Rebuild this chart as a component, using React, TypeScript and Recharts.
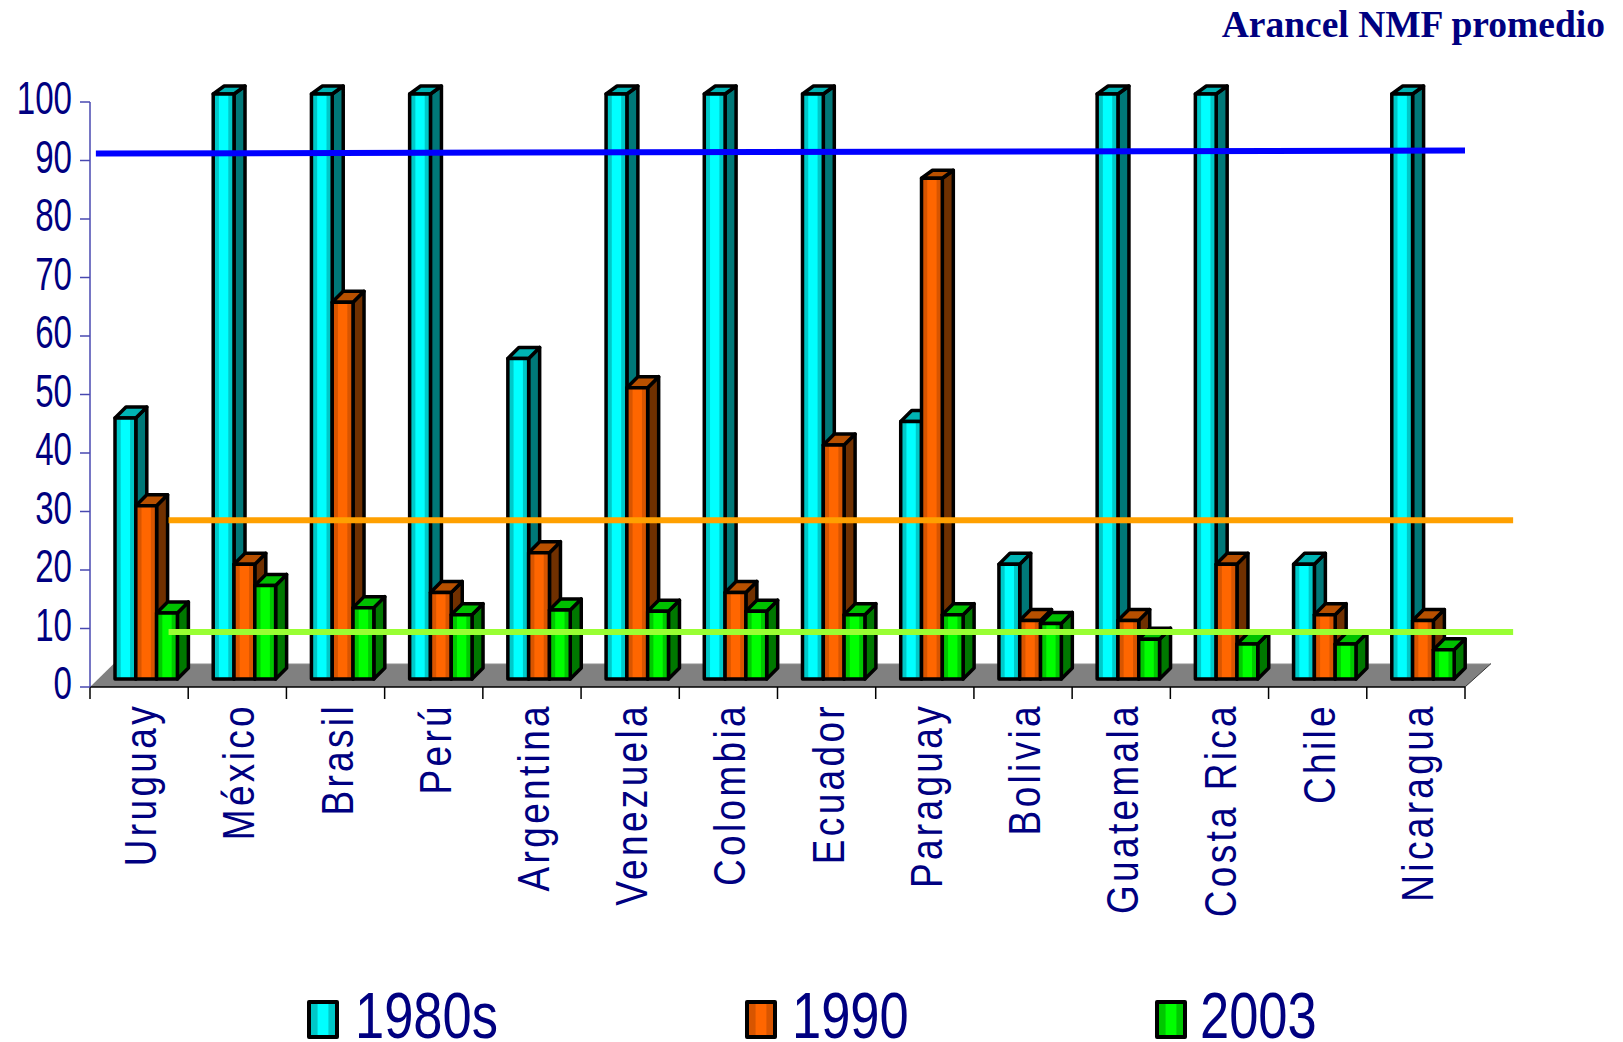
import React from "react";
import {
  ComposedChart,
  Bar,
  XAxis,
  YAxis,
  ReferenceLine,
  ReferenceArea,
  Legend,
} from "recharts";

const COUNTRIES = ["Uruguay", "México", "Brasil", "Perú", "Argentina", "Venezuela", "Colombia", "Ecuador", "Paraguay", "Bolivia", "Guatemala", "Costa Rica", "Chile", "Nicaragua"];
const V1980S = [44.6, 100, 100, 100, 54.8, 100, 100, 100, 44, 19.6, 100, 100, 19.6, 100];
const V1990 = [29.6, 19.6, 64.4, 14.8, 21.6, 49.8, 14.8, 40, 85.6, 10, 10, 19.6, 11, 10];
const V2003 = [11.3, 16, 12.2, 11, 11.8, 11.6, 11.6, 11, 11, 9.5, 6.8, 6, 6, 5];
const Y_TICKS = [0, 10, 20, 30, 40, 50, 60, 70, 80, 90, 100];
const X_EDGES = [0, 1, 2, 3, 4, 5, 6, 7, 8, 9, 10, 11, 12, 13, 14];

// trend lines, in band units / percent
const BLUE_LINE = [[0.06, 91.2], [14, 91.7]];
const ORANGE_LINE = [[0.8, 28.5], [14.49, 28.5]];
const GREEN_LINE = [[0.8, 9.4], [14.49, 9.4]];

const NAVY = "#000080";
const FONT = "'Liberation Sans', Arial, sans-serif";

const data = COUNTRIES.map((c, i) => ({
  country: c,
  idx: i,
  a: V1980S[i],
  b: V1990[i],
  c: V2003[i],
}));

const COLORS = {
  a: { id: "gradA", edge: "#00c8c8", mid: "#00ffff", top: "#00b4b4", side: "#007878" },
  b: { id: "gradB", edge: "#d85500", mid: "#ff6600", top: "#b85000", side: "#703000" },
  c: { id: "gradC", edge: "#00c800", mid: "#00ff00", top: "#00c000", side: "#007800" },
};

const DX = 7;
const DY = -8;
const DEPTH = 11;

function Box3D(props: any) {
  const { x, y, width, height, tone } = props;
  const k = COLORS[tone as keyof typeof COLORS];
  const l = x + DX;
  const t = y + DY;
  const r = l + width;
  const b = t + height;
  // the tall columns have a flatter cap in the original
  const up = height > 450 ? 8 : DEPTH;
  return (
    <g stroke="#000" strokeWidth={3.5} strokeLinejoin="round">
      <polygon points={`${r},${t} ${r + DEPTH},${t - up} ${r + DEPTH},${b - DEPTH} ${r},${b}`} fill={k.side} />
      <polygon points={`${l},${t} ${l + DEPTH},${t - up} ${r + DEPTH},${t - up} ${r},${t}`} fill={k.top} />
      <rect x={l} y={t} width={width} height={height} fill={`url(#${k.id})`} />
    </g>
  );
}

function Floor(props: any) {
  const { x, y, width, height } = props;
  const b = y + height;
  const r = x + width;
  return (
    <g>
      <polygon points={`${x},${b} ${x + 24},${y} ${r + 26},${y} ${r},${b}`} fill="#808080" />
      <line x1={x + 24} y1={y} x2={r + 26} y2={y} stroke="#c8c8c8" strokeWidth={1} />
      <line x1={r} y1={b} x2={r + 26} y2={y} stroke="#333" strokeWidth={1} />
    </g>
  );
}

function CountryTick(props: any) {
  const { x, y, payload } = props;
  return (
    <text
      transform={`translate(${x + 17},${y + 7}) rotate(-90) scale(0.84,1)`}
      textAnchor="end"
      fontFamily={FONT}
      fontSize={44}
      letterSpacing={4}
      fill={NAVY}
    >
      {payload.value}
    </text>
  );
}

function ValueTick(props: any) {
  const { y, payload } = props;
  return (
    <text
      transform={`translate(72,${y + 12}) scale(0.72,1)`}
      textAnchor="end"
      fontFamily={FONT}
      fontSize={46}
      fill={NAVY}
    >
      {payload.value}
    </text>
  );
}

const LEGEND_ITEMS = [
  { label: "1980s", id: "a", swatch: 307, text: 355 },
  { label: "1990", id: "b", swatch: 745, text: 792 },
  { label: "2003", id: "c", swatch: 1155, text: 1200 },
];

function swatchFill(tone: string) {
  const k = COLORS[tone as keyof typeof COLORS];
  return `linear-gradient(90deg, ${k.edge} 25%, ${k.mid} 30%, ${k.mid} 70%, ${k.edge} 75%)`;
}

function LegendRow() {
  return (
    <div style={{ position: "relative", width: 1623, height: 42 }}>
      {LEGEND_ITEMS.map((it) => (
        <React.Fragment key={it.label}>
          <div
            style={{
              position: "absolute",
              left: it.swatch,
              top: 0,
              width: 24,
              height: 31,
              background: swatchFill(it.id),
              border: "4px solid #000",
              borderRadius: 2,
            }}
          />
          <div
            style={{
              position: "absolute",
              left: it.text,
              top: -7,
              height: 46,
              fontFamily: FONT,
              fontSize: 64,
              lineHeight: "46px",
              color: NAVY,
              transform: "scaleX(0.82)",
              transformOrigin: "left center",
              whiteSpace: "nowrap",
            }}
          >
            {it.label}
          </div>
        </React.Fragment>
      ))}
    </div>
  );
}

function EmptyTick() {
  return <g />;
}

export default function App() {
  return (
    <div style={{ position: "absolute", left: 0, top: 0, width: 1623, height: 1042, overflow: "hidden", background: "#fff" }}>
      <div
        style={{
          position: "absolute",
          right: 18,
          top: 3,
          fontFamily: "'Liberation Serif', 'Times New Roman', serif",
          fontWeight: "bold",
          fontSize: 37.5,
          color: NAVY,
          whiteSpace: "nowrap",
        }}
      >
        Arancel NMF promedio
      </div>
      <ComposedChart
        width={1623}
        height={1042}
        data={data}
        barSize={20.8}
        barGap={0}
        margin={{ top: 102, right: 158, left: 0, bottom: 0 }}
      >
        <defs>
          {Object.values(COLORS).map((k) => (
            <linearGradient key={k.id} id={k.id} x1="0" y1="0" x2="1" y2="0">
              <stop offset="0%" stopColor={k.edge} />
              <stop offset="25%" stopColor={k.edge} />
              <stop offset="30%" stopColor={k.mid} />
              <stop offset="70%" stopColor={k.mid} />
              <stop offset="75%" stopColor={k.edge} />
              <stop offset="100%" stopColor={k.edge} />
            </linearGradient>
          ))}
        </defs>
        {/* axis 0 holds the band edges and sits on the plot, axis 1 the names below it */}
        <XAxis
          xAxisId={0}
          dataKey="idx"
          type="number"
          domain={[0, 14]}
          ticks={X_EDGES}
          tick={<EmptyTick />}
          height={1}
          tickSize={12}
          interval={0}
          stroke="#000"
          strokeWidth={1.5}
        />
        <XAxis
          xAxisId={1}
          dataKey="country"
          interval={0}
          height={312}
          axisLine={false}
          tickLine={false}
          tick={<CountryTick />}
        />
        <YAxis
          domain={[0, 100]}
          ticks={Y_TICKS}
          width={90}
          interval={0}
          tickSize={10}
          stroke="#4848b0"
          strokeWidth={1.5}
          tick={<ValueTick />}
        />
        <ReferenceArea
          xAxisId={0}
          x1={0}
          x2={14}
          y1={0}
          y2={4}
          ifOverflow="visible"
          shape={<Floor />}
        />
        <Bar xAxisId={1} dataKey="a" name="1980s" isAnimationActive={false} shape={<Box3D tone="a" />} />
        <Bar xAxisId={1} dataKey="b" name="1990" isAnimationActive={false} shape={<Box3D tone="b" />} />
        <Bar xAxisId={1} dataKey="c" name="2003" isAnimationActive={false} shape={<Box3D tone="c" />} />
        {[
          { pts: BLUE_LINE, color: "#0000ff" },
          { pts: ORANGE_LINE, color: "#ffa000" },
          { pts: GREEN_LINE, color: "#99ff33" },
        ].map((l) => (
          <ReferenceLine
            key={l.color}
            xAxisId={0}
            ifOverflow="visible"
            stroke={l.color}
            strokeWidth={6}
            segment={[
              { x: l.pts[0][0], y: l.pts[0][1] },
              { x: l.pts[1][0], y: l.pts[1][1] },
            ]}
          />
        ))}
        <Legend
          verticalAlign="bottom"
          wrapperStyle={{ position: "absolute", left: 0, top: 1000, width: 1623, height: 42 }}
          content={() => <LegendRow />}
        />
      </ComposedChart>
    </div>
  );
}
